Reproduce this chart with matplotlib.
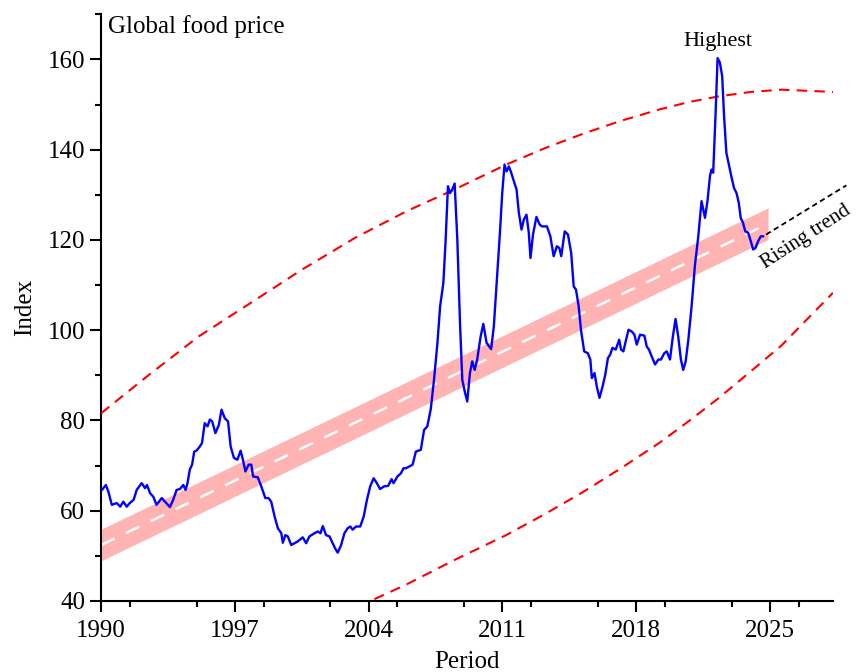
import matplotlib
matplotlib.use("Agg")
import matplotlib.pyplot as plt
import numpy as np
from matplotlib.ticker import MultipleLocator, FixedLocator

plt.rcParams['font.family'] = ['Liberation Serif', 'DejaVu Serif']

# ---- data ----
years = [1990.00, 1990.04, 1990.25, 1990.38, 1990.56, 1990.82, 1991.00, 1991.16, 1991.34, 1991.50,
         1991.70, 1991.86, 1992.12, 1992.30, 1992.40, 1992.56, 1992.73, 1992.90, 1993.17, 1993.34,
         1993.60, 1993.77, 1993.95, 1994.12, 1994.30, 1994.42, 1994.52, 1994.64, 1994.76, 1994.87,
         1994.99, 1995.16, 1995.28, 1995.42, 1995.57, 1995.69, 1995.81, 1995.98, 1996.16, 1996.30,
         1996.47, 1996.64, 1996.78, 1996.95, 1997.13, 1997.30, 1997.42, 1997.55, 1997.72, 1997.86,
         1997.95, 1998.20, 1998.38, 1998.59, 1998.76, 1998.90, 1999.08, 1999.25, 1999.43, 1999.51,
         1999.64, 1999.77, 1999.95, 2000.12, 2000.29, 2000.55, 2000.73, 2000.90, 2001.16, 2001.34,
         2001.48, 2001.60, 2001.77, 2001.95, 2002.12, 2002.24, 2002.38, 2002.56, 2002.73, 2002.90,
         2003.04, 2003.16, 2003.34, 2003.56, 2003.74, 2003.91, 2004.08, 2004.26, 2004.43, 2004.60,
         2004.81, 2005.02, 2005.20, 2005.30, 2005.51, 2005.69, 2005.82, 2005.95, 2006.30, 2006.47,
         2006.73, 2006.90, 2007.07, 2007.25, 2007.42, 2007.60, 2007.74, 2007.91, 2008.03, 2008.15,
         2008.26, 2008.38, 2008.50, 2008.64, 2008.78, 2008.90, 2009.03, 2009.16, 2009.30, 2009.42,
         2009.55, 2009.68, 2009.86, 2010.00, 2010.17, 2010.41, 2010.55, 2010.73, 2010.87, 2010.99,
         2011.11, 2011.22, 2011.34, 2011.46, 2011.60, 2011.74, 2011.86, 2012.00, 2012.12, 2012.26,
         2012.38, 2012.47, 2012.60, 2012.78, 2012.95, 2013.07, 2013.33, 2013.51, 2013.68, 2013.85,
         2013.98, 2014.08, 2014.26, 2014.43, 2014.60, 2014.73, 2014.85, 2014.99, 2015.11, 2015.28,
         2015.47, 2015.60, 2015.68, 2015.82, 2015.94, 2016.08, 2016.24, 2016.38, 2016.52, 2016.64,
         2016.76, 2016.93, 2017.11, 2017.21, 2017.33, 2017.45, 2017.60, 2017.77, 2017.91, 2018.03,
         2018.20, 2018.43, 2018.55, 2018.67, 2018.81, 2018.99, 2019.16, 2019.30, 2019.47, 2019.60,
         2019.77, 2019.91, 2020.06, 2020.20, 2020.34, 2020.46, 2020.59, 2020.73, 2020.90, 2021.07,
         2021.25, 2021.42, 2021.60, 2021.73, 2021.86, 2021.94, 2022.03, 2022.15, 2022.26, 2022.38,
         2022.50, 2022.60, 2022.72, 2022.85, 2022.98, 2023.12, 2023.25, 2023.37, 2023.47, 2023.59,
         2023.71, 2023.86, 2024.00, 2024.12, 2024.24, 2024.38, 2024.52, 2024.64]
index = [64.6, 64.6, 65.7, 64.2, 61.3, 61.7, 60.9, 62.0, 60.9, 61.7,
         62.4, 64.6, 66.1, 65.0, 65.7, 63.9, 63.1, 61.3, 62.8, 62.0,
         60.8, 62.4, 64.6, 64.8, 65.7, 64.6, 66.1, 69.1, 70.2, 73.1,
         73.3, 74.2, 75.0, 79.4, 78.7, 80.2, 79.8, 77.2, 79.0, 82.4,
         80.5, 79.8, 74.2, 71.7, 71.3, 73.3, 71.3, 68.7, 70.2, 70.2,
         67.6, 67.4, 65.4, 62.8, 62.8, 62.0, 58.7, 56.1, 55.0, 52.9,
         54.6, 54.3, 52.4, 52.8, 53.2, 54.1, 52.8, 54.3, 55.0, 55.4,
         55.0, 56.6, 54.6, 54.3, 52.8, 51.7, 50.7, 52.4, 55.0, 56.1,
         56.5, 55.8, 56.5, 56.5, 58.7, 62.4, 65.4, 67.2, 66.1, 64.8,
         65.4, 65.5, 67.0, 66.1, 67.6, 68.3, 69.4, 69.4, 70.2, 73.1,
         73.5, 77.9, 78.7, 82.5, 89.0, 97.2, 105.3, 110.5, 120.1, 131.9,
         130.4, 131.2, 132.5, 120.1, 101.6, 89.0, 86.4, 84.2, 90.5, 93.1,
         91.2, 93.5, 98.6, 101.4, 97.2, 95.8, 100.8, 112.7, 121.6, 130.4,
         136.7, 135.2, 136.3, 134.9, 133.0, 131.2, 126.0, 122.3, 124.5, 125.6,
         121.6, 116.0, 121.2, 125.1, 123.4, 123.0, 123.0, 120.8, 116.4, 118.6,
         118.2, 116.4, 121.9, 121.2, 117.1, 109.7, 109.0, 105.3, 100.1, 95.3,
         94.9, 93.5, 89.4, 90.5, 87.5, 85.0, 87.5, 90.1, 93.8, 94.6,
         96.1, 95.7, 97.9, 95.7, 95.3, 97.5, 100.1, 99.7, 99.0, 96.8,
         99.0, 98.8, 96.4, 95.7, 94.2, 92.4, 93.5, 93.5, 94.9, 95.3,
         93.5, 98.3, 102.5, 98.6, 93.5, 91.2, 93.1, 97.9, 105.3, 114.2,
         120.8, 128.6, 124.9, 128.6, 134.1, 135.6, 134.9, 147.4, 160.3, 159.3,
         156.3, 147.4, 139.3, 136.7, 134.1, 131.5, 130.4, 128.2, 124.9, 123.8,
         121.9, 121.6, 119.7, 117.9, 118.2, 119.7, 120.8, 120.8]

# linear trend (centre line of the pink band)
trend_years = [1990.0, 2024.9]
trend_values = [52.4, 123.6]
band_half_width = 3.5

# dashed red envelope curves
upper_years = [1990.0, 1992.5, 1995.1, 1997.7, 2000.5, 2003.3, 2006.0, 2008.5, 2011.2,
               2013.2, 2015.2, 2017.2, 2019.2, 2020.8, 2022.3, 2024.0, 2025.6, 2028.3]
upper_values = [81.6, 90.1, 98.6, 105.7, 113.4, 120.5, 126.4, 131.2, 136.7,
                140.3, 143.5, 146.4, 148.9, 150.6, 151.8, 152.8, 153.3, 152.8]
lower_years = [2004.3, 2006.0, 2008.5, 2011.2, 2013.2, 2015.2, 2017.2, 2019.2, 2020.8,
               2022.3, 2024.0, 2025.6, 2028.3]
lower_values = [40.4, 43.7, 49.1, 54.6, 59.2, 64.1, 69.4, 75.0, 80.0,
                84.9, 90.9, 96.6, 108.3]

# rising trend extension
rise_years = [2024.8, 2029.0]
rise_values = [121.2, 132.1]

x_ticks = [1990, 1997, 2004, 2011, 2018, 2025]
y_ticks = [40, 60, 80, 100, 120, 140, 160]

# ---- figure ----
fig = plt.figure(figsize=(8.57, 6.72), dpi=100)
ax = fig.add_axes([0.118, 0.1057, 0.854, 0.873])

tx = np.array(trend_years)
ty = np.array(trend_values)
ax.fill_between(tx, ty - band_half_width, ty + band_half_width, color='#FFB3B3', lw=0, zorder=1)
ax.plot(tx, ty, color='white', lw=1.8, dashes=(6, 5), zorder=2)

ax.plot(upper_years, upper_values, color='red', lw=1.5, dashes=(5, 3.5), zorder=3)
ax.plot(lower_years, lower_values, color='red', lw=1.5, dashes=(5, 3.5), zorder=3)

ax.plot(years, index, color='blue', lw=1.7, zorder=4)

ax.plot(rise_years, rise_values, color='black', lw=1.3, dashes=(3, 2), zorder=3, clip_on=False)

ax.text(1990.35, 167.3, 'Global food price', fontsize=18, ha='left', va='center')
ax.text(2022.3, 164.0, 'Highest', fontsize=16, ha='center', va='center')
ax.text(2024.75, 113.6, 'Rising trend', fontsize=15, ha='left', va='baseline',
        rotation=33, rotation_mode='anchor', clip_on=False)

ax.set_xlim(1990, 2028.3)
ax.set_ylim(40, 170)
ax.xaxis.set_major_locator(FixedLocator(x_ticks))
ax.xaxis.set_minor_locator(MultipleLocator(3.5))
ax.yaxis.set_major_locator(FixedLocator(y_ticks))
ax.yaxis.set_minor_locator(MultipleLocator(10))

for s in ['top', 'right']:
    ax.spines[s].set_visible(False)
for s in ['left', 'bottom']:
    ax.spines[s].set_linewidth(1.5)
ax.tick_params(which='major', direction='out', length=8, width=1.5, labelsize=18)
ax.tick_params(which='minor', direction='out', length=4.5, width=1.5)
ax.tick_params(axis='x', which='major', pad=6)

ax.set_xlabel('Period', fontsize=18, labelpad=6)
ax.set_ylabel('Index', fontsize=18, labelpad=8)

fig.savefig('out.png', dpi=100)
